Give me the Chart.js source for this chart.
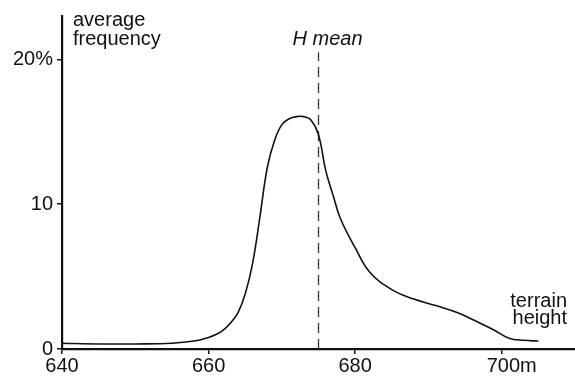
<!DOCTYPE html>
<html>
<head>
<meta charset="utf-8">
<script src="https://cdn.jsdelivr.net/npm/chart.js@4"></script>
<style>
  html, body { margin: 0; padding: 0; background: #fff; }
  #wrap { width: 575px; height: 383px; }
</style>
</head>
<body>
<div id="wrap"><canvas id="myChart" width="575" height="383"></canvas></div>
<script>
// terrain height (m) and average frequency (%)
const heights = [640, 645, 650, 655, 658, 660, 661, 662, 663, 664, 665, 666, 667, 668, 669, 670, 671, 672, 673, 674, 675, 676, 677, 678, 680, 682, 685, 688, 691, 694, 697, 699, 701, 703, 705];
const freq    = [0.4, 0.35, 0.35, 0.4, 0.55, 0.8, 1.0, 1.3, 1.8, 2.5, 3.8, 5.9, 9.1, 12.5, 14.4, 15.5, 15.9, 16.05, 16.05, 15.8, 14.8, 12.3, 10.6, 9.0, 7.0, 5.3, 4.1, 3.45, 3.0, 2.5, 1.8, 1.3, 0.75, 0.6, 0.55];
const meanHeight = 675;
const meanLineTop = 20.5;
const xTicks = [640, 660, 680, 700];
const yTicks = [0, 10, 20];
const yTickLabels = ['0', '10', '20%'];
const yTitle = ['average', 'frequency'];
const xTitle = ['terrain', 'height'];
const meanLabel = 'H mean';

const font = '"Liberation Sans", Arial, sans-serif';
const ink = '#111';

const points = heights.map((h, i) => ({ x: h, y: freq[i] }));
const meanLine = [{ x: meanHeight, y: 0 }, { x: meanHeight, y: meanLineTop }];

const textLabels = {
  id: 'textLabels',
  afterDraw(chart) {
    const ctx = chart.ctx;
    const xs = chart.scales.x;
    const ys = chart.scales.y;
    ctx.save();
    ctx.fillStyle = ink;
    ctx.textBaseline = 'alphabetic';
    ctx.font = '20px ' + font;
    ctx.textAlign = 'left';
    ctx.fillText(yTitle[0], xs.left + 11, ys.top + 10);
    ctx.fillText(yTitle[1], xs.left + 11, ys.top + 29);
    ctx.textAlign = 'right';
    ctx.fillText(xTitle[0], chart.width - 8, ys.bottom - 42);
    ctx.fillText(xTitle[1], chart.width - 8, ys.bottom - 25);
    ctx.font = 'italic 20px ' + font;
    ctx.textAlign = 'left';
    ctx.fillText(meanLabel, xs.getPixelForValue(meanHeight) - 26, ys.getPixelForValue(meanLineTop) - 7);
    ctx.restore();
  }
};

const ctx = document.getElementById('myChart').getContext('2d');
const myChart = new Chart(ctx, {
  type: 'line',
  data: {
    datasets: [{
      data: points,
      borderColor: ink,
      borderWidth: 1.6,
      pointRadius: 0,
      tension: 0.4,
      fill: false
    }, {
      data: meanLine,
      borderColor: '#333',
      borderWidth: 1.3,
      borderDash: [10, 6],
      pointRadius: 0,
      fill: false
    }]
  },
  options: {
    responsive: false,
    animation: false,
    layout: { padding: { top: 13, right: 0, left: 0, bottom: 0 } },
    plugins: { legend: { display: false }, tooltip: { enabled: false } },
    scales: {
      x: {
        type: 'linear',
        min: 640,
        max: 710,
        afterBuildTicks: (scale) => { scale.ticks = xTicks.map(v => ({ value: v })); },
        afterFit: (scale) => { scale.height = 34; },
        border: { display: true, color: ink, width: 2.2 },
        grid: { display: true, drawOnChartArea: false, drawTicks: true, tickLength: 5, color: ink, lineWidth: 1.5 },
        ticks: {
          color: ink,
          padding: 0,
          maxRotation: 0,
          font: { family: font, size: 20 },
          callback: (v) => v === 700 ? '\u2002\u2002' + v + 'm' : '' + v
        }
      },
      y: {
        min: 0,
        max: 23,
        afterBuildTicks: (scale) => { scale.ticks = yTicks.map(v => ({ value: v })); },
        afterFit: (scale) => { scale.width = 62; },
        border: { display: true, color: ink, width: 2.2 },
        grid: { display: true, drawOnChartArea: false, drawTicks: true, tickLength: 5, color: ink, lineWidth: 1.5 },
        ticks: {
          color: ink,
          padding: 4,
          font: { family: font, size: 20 },
          callback: (v) => yTickLabels[yTicks.indexOf(v)]
        }
      }
    }
  },
  plugins: [textLabels]
});
</script>
</body>
</html>
